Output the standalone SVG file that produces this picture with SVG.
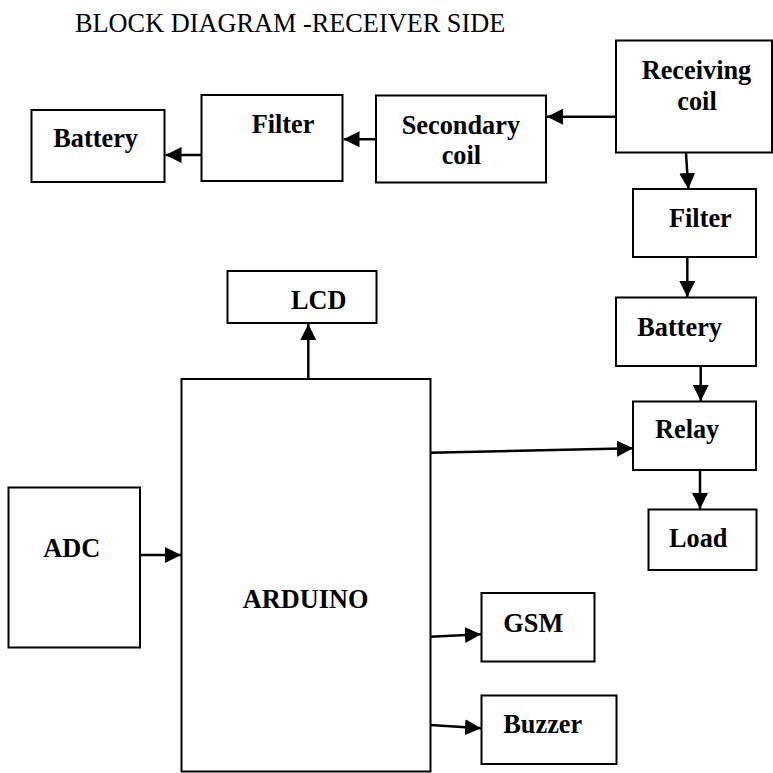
<svg xmlns="http://www.w3.org/2000/svg" width="773" height="773" viewBox="0 0 773 773">
<style>
.box{fill:#fff;stroke:#000;stroke-width:2}
.lbl{font-family:"Liberation Serif","Times New Roman",serif;font-weight:bold;font-size:26.3px;fill:#000}
.title{font-family:"Liberation Serif","Times New Roman",serif;font-size:26.3px;fill:#000}
.conn{stroke:#000;stroke-width:2.5;fill:none;marker-end:url(#ah)}
</style>
<defs>
<marker id="ah" markerUnits="userSpaceOnUse" markerWidth="16" markerHeight="16" refX="16" refY="8" orient="auto">
<path d="M0,0 L16,8 L0,16 Z" fill="#000"/>
</marker>
</defs>
<rect width="773" height="773" fill="#fff"/>
<text class="title" x="75" y="31.5">BLOCK DIAGRAM -RECEIVER SIDE</text>

<g id="connectors">
<line class="conn" x1="616" y1="116.7" x2="547" y2="116.7"/>
<line class="conn" x1="376" y1="139.3" x2="343.5" y2="139.3"/>
<line class="conn" x1="201.5" y1="155" x2="165.5" y2="155"/>
<line class="conn" x1="686" y1="153" x2="688.3" y2="189"/>
<line class="conn" x1="687.3" y1="257.5" x2="687.3" y2="297"/>
<line class="conn" x1="700.7" y1="366" x2="700.7" y2="401"/>
<line class="conn" x1="700" y1="470" x2="700" y2="509"/>
<line class="conn" x1="308.3" y1="379" x2="308.3" y2="324"/>
<line class="conn" x1="140" y1="555" x2="181" y2="555"/>
<line class="conn" x1="430.5" y1="452.7" x2="633" y2="448.3"/>
<line class="conn" x1="430.5" y1="636.7" x2="481" y2="634.3"/>
<line class="conn" x1="430.5" y1="725" x2="481" y2="728.3"/>
</g>

<g id="battery-left"><rect class="box" x="31.5" y="110" width="133" height="72"/><text class="lbl" x="53.3" y="146.7">Battery</text></g>
<g id="filter-top"><rect class="box" x="201.5" y="95" width="141" height="86"/><text class="lbl" x="251.7" y="133.3">Filter</text></g>
<g id="secondary-coil"><rect class="box" x="376" y="95.5" width="170" height="87"/><text class="lbl" x="401.7" y="134">Secondary</text><text class="lbl" x="441.7" y="164">coil</text></g>
<g id="receiving-coil"><rect class="box" x="616" y="40.5" width="156" height="112"/><text class="lbl" x="641.7" y="79">Receiving</text><text class="lbl" x="677.3" y="110">coil</text></g>
<g id="filter-right"><rect class="box" x="633" y="189" width="123" height="68"/><text class="lbl" x="669" y="227.3">Filter</text></g>
<g id="battery-right"><rect class="box" x="616" y="297.5" width="140" height="68.5"/><text class="lbl" x="637.3" y="335.7">Battery</text></g>
<g id="relay"><rect class="box" x="633" y="401.5" width="123" height="68.5"/><text class="lbl" x="655" y="438.3">Relay</text></g>
<g id="load"><rect class="box" x="648.5" y="509.5" width="108" height="60.5"/><text class="lbl" x="669" y="546.7">Load</text></g>
<g id="lcd"><rect class="box" x="227.5" y="271" width="149" height="52"/><text class="lbl" x="291" y="309.3">LCD</text></g>
<g id="arduino"><rect class="box" x="181.5" y="379" width="249" height="392.5"/><text class="lbl" x="242.7" y="608.3">ARDUINO</text></g>
<g id="adc"><rect class="box" x="8.5" y="487.5" width="131.5" height="160"/><text class="lbl" x="43.3" y="556.7">ADC</text></g>
<g id="gsm"><rect class="box" x="481.5" y="593" width="113" height="68.5"/><text class="lbl" x="503.3" y="631.7">GSM</text></g>
<g id="buzzer"><rect class="box" x="481.5" y="695.5" width="135" height="68.5"/><text class="lbl" x="503.3" y="732.7">Buzzer</text></g>
</svg>
